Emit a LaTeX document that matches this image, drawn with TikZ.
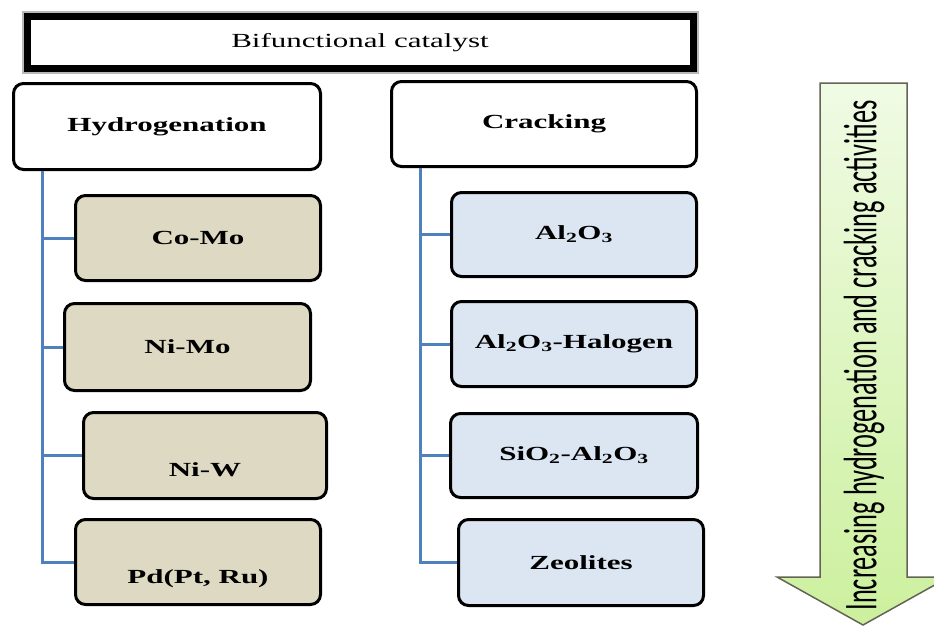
\documentclass[tikz,border=0pt]{standalone}
\usepackage{fontspec}
\setmainfont{Liberation Serif}[FakeStretch=1.55]
\newfontfamily\arrowfont{Carlito}[FakeStretch=0.56]
\definecolor{branchblue}{RGB}{79,129,189}
\definecolor{hydfill}{RGB}{221,217,195}
\definecolor{crackfill}{RGB}{220,230,242}
\definecolor{arrowtop}{RGB}{240,251,228}
\definecolor{arrowbottom}{RGB}{204,240,158}
\definecolor{arrowline}{RGB}{100,100,84}
\tikzset{
  box/.style={
    draw=black,
    line width=3pt,
    rounded corners=10pt,
    align=center,
    font=\fontsize{20}{24}\selectfont\bfseries
  },
  head-box/.style={box, fill=white},
  hyd-item/.style={box, fill=hydfill, minimum width=245pt, minimum height=85pt},
  crack-item/.style={box, fill=crackfill, minimum width=245pt, minimum height=85pt},
  branch/.style={draw=branchblue, line width=3pt},
  title-box/.style={
    draw=black, line width=7pt, fill=white,
    preaction={draw=gray!55, line width=11pt},
    minimum width=666pt, minimum height=52pt,
    font=\fontsize{20}{24}\selectfont
  },
  arrow-body/.style={
    draw=arrowline, line width=1.5pt, line join=miter,
    top color=arrowtop, bottom color=arrowbottom
  }
}
\newcommand{\lowtext}[1]{\raisebox{-21pt}[0pt][0pt]{#1}}

\begin{document}
\begin{tikzpicture}[x=1pt, y=-1pt]
  \useasboundingbox (0,0) rectangle (934,626);
  % title frame
  \node[title-box] (title) at (360,42.5) {Bifunctional catalyst};
  % the two functions
  \node[head-box, minimum width=307pt, minimum height=86pt] (hyd) at (167,126.5) {Hydrogenation};
  \node[head-box, minimum width=305pt, minimum height=85pt] (crack) at (544,124) {Cracking};
  % hydrogenation metals
  \node[hyd-item] (como) at (198,238) {Co-Mo};
  \node[hyd-item, minimum width=246pt, minimum height=87pt] (nimo) at (187.5,347) {Ni-Mo};
  \node[hyd-item, minimum width=243pt, minimum height=86pt] (niw) at (205,455.5) {\lowtext{Ni-W}};
  \node[hyd-item] (pd) at (198,562) {\lowtext{Pd(Pt, Ru)}};
  % cracking supports
  \node[crack-item, minimum height=84pt] (al) at (574,234.5) {Al\textsubscript{2}O\textsubscript{3}};
  \node[crack-item] (alhal) at (574,344) {Al\textsubscript{2}O\textsubscript{3}-Halogen};
  \node[crack-item, minimum width=247pt, minimum height=84pt] (sial) at (574,455.5) {SiO\textsubscript{2}-Al\textsubscript{2}O\textsubscript{3}};
  \node[crack-item, minimum height=86pt] (zeo) at (581,562.5) {Zeolites};
  % tree branches
  \foreach \n in {como,nimo,niw,pd}
    \draw[branch] ([xshift=30pt]hyd.south west) |- (\n.west);
  \foreach \n in {al,alhal,sial,zeo}
    \draw[branch] ([xshift=30pt]crack.south west) |- (\n.west);
  % trend arrow
  \path[arrow-body] (820,83) -- (907,83) -- (907,577) -- (949,577)
    -- (863,625) -- (777,577) -- (820,577) -- cycle;
  \node[rotate=90, font=\arrowfont\fontsize{47}{50}\selectfont] (trend) at (864,355.5)
    {Increasing hydrogenation and cracking activities};
\end{tikzpicture}
\end{document}
